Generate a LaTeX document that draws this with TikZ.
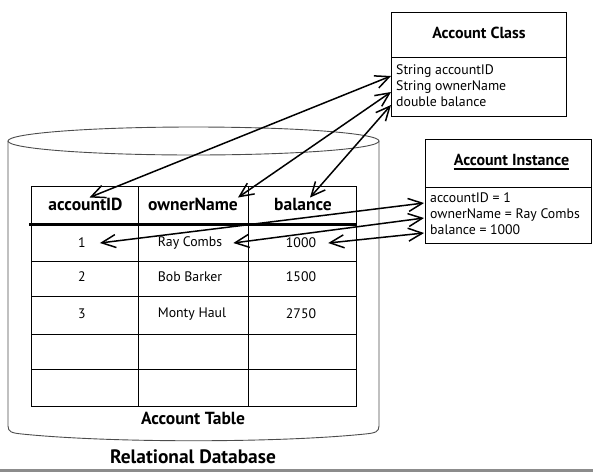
\documentclass[tikz,border=0pt]{standalone}
\usepackage{fontspec}
\setmainfont{PT Sans}
\usetikzlibrary{arrows.meta}
\begin{document}
\begin{tikzpicture}[x=1pt,y=-1pt,
  box/.style={draw, line width=1pt, inner sep=0pt},
  cyl/.style={draw=black!70, line width=0.9pt},
  gridline/.style={line width=1pt},
  txt/.style={inner sep=0pt, font=\fontsize{13.8}{16}\selectfont},
  hdr/.style={inner sep=0pt, font=\fontsize{17.5}{20}\selectfont\bfseries},
  ttl/.style={inner sep=0pt, font=\fontsize{16}{19}\selectfont\bfseries},
  big/.style={inner sep=0pt, font=\fontsize{19.4}{22}\selectfont\bfseries},
  dbl/.style={line width=1.5pt, {Straight Barb[length=14pt,width=13pt]}-{Straight Barb[length=14pt,width=13pt]}}
]
\useasboundingbox (0,0) rectangle (593,472);
\fill[black!45] (0,469) rectangle (593,472);

% cylinder
\draw[cyl] (193.5,141) ellipse [x radius=185.5pt, y radius=14pt];
\draw[cyl] (8,141) -- (8,426) .. controls (8,432) and (12,433) .. (22,434)
  .. controls (110,443) and (277,443) .. (365,434)
  .. controls (375,433) and (379,432) .. (379,426) -- (379,141);

% table
\draw[gridline] (31,186) rectangle (356,406);
\foreach \x in {138,248} \draw[gridline] (\x,186) -- (\x,406);
\foreach \y in {261,296,334,369} \draw[gridline] (31,\y) -- (356,\y);
\draw[line width=3pt] (29,224) -- (357,224);

\node[hdr] (hA) at (85.5,204) {accountID};
\node[hdr] (hO) at (193,204) {ownerName};
\node[hdr] (hB) at (303,204) {balance};

\node[txt] (rA) at (82,243) {1};
\node[txt] (rO) at (190,243) {Ray Combs};
\node[txt] (rB) at (301,243) {1000};
\node[txt] (sA) at (82,277) {2};
\node[txt] (sO) at (190,277) {Bob Barker};
\node[txt] (sB) at (301,277) {1500};
\node[txt] (tA) at (82,314) {3};
\node[txt] (tO) at (192,314) {Monty Haul};
\node[txt] (tB) at (301,314) {2750};

\node[hdr] (tbl) at (193,418) {Account Table};
\node[big] (db) at (193,457) {Relational Database};

% account class
\node[box, minimum width=175pt, minimum height=45pt] (clsT) at (478.5,34.5) {};
\node[box, minimum width=175pt, minimum height=59pt] (clsA) at (478.5,86.5) {};
\node[ttl] (clsTitle) at (479,33) {Account Class};
\node[txt, anchor=west, align=left] (clsAttr) at (396,86) {String accountID\\String ownerName\\double balance};

% account instance
\node[box, minimum width=166pt, minimum height=48pt] (insT) at (508,163) {};
\node[box, minimum width=166pt, minimum height=56pt] (insA) at (508,215) {};
\node[ttl] (insTitle) at (511.5,160) {Account Instance};
\draw[line width=1.6pt] ([yshift=-3pt]insTitle.south west) -- ([yshift=-3pt]insTitle.south east);
\node[txt, anchor=west, align=left] (insAttr) at (430,214) {accountID = 1\\ownerName = Ray Combs\\balance = 1000};

% connectors
\coordinate (ca1) at (391,76);
\coordinate (ca2) at (391,92);
\coordinate (ca3) at (391,105);
\coordinate (ia1) at (424,203);
\coordinate (ia2) at (424,218);
\coordinate (ia3) at (424,233);

\draw[dbl] (ca1) -- ([xshift=4pt]hA.north);
\draw[dbl] (ca2) -- (hO.north east);
\draw[dbl] (ca3) -- ([xshift=7pt]hB.north);
\draw[dbl] (ia1) -- ([xshift=14pt]rA.east);
\draw[dbl] (ia2) -- ([xshift=11pt]rO.east);
\draw[dbl] (ia3) -- ([xshift=12pt]rB.east);
\end{tikzpicture}
\end{document}
